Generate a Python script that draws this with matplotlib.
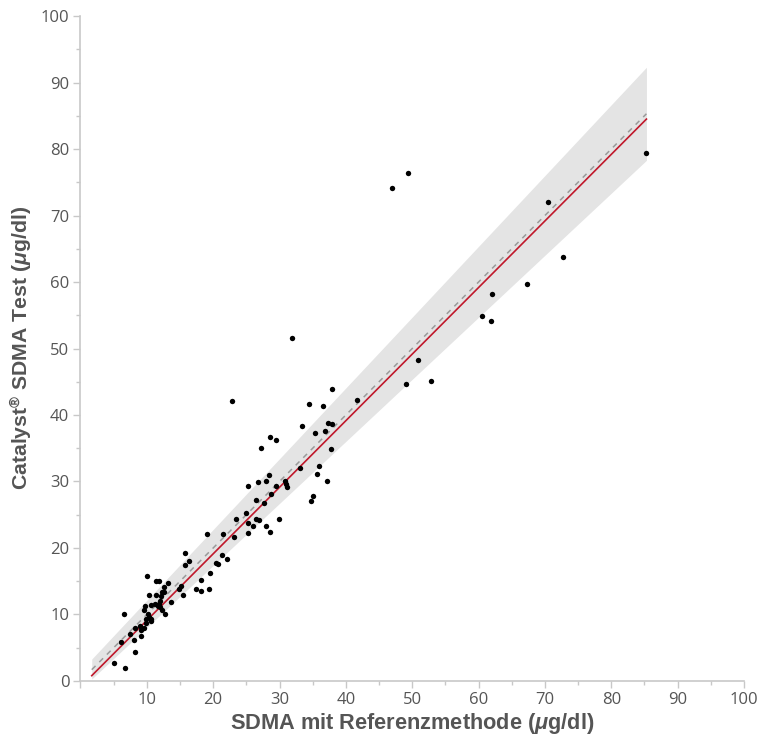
import numpy as np
import matplotlib.pyplot as plt
from matplotlib.ticker import MultipleLocator

# Referenzmethode (x) vs. Catalyst SDMA Test (y), µg/dl
ref_x = [10.1, 11.4, 11.8, 13.2, 12.6, 12.3, 12.6, 10.3, 11.4, 12.2,
         12.0, 13.6, 11.2, 10.6, 9.8, 11.8, 11.7, 12.0, 12.3, 12.7,
         9.5, 10.2, 9.95, 10.35, 10.6, 6.6, 10.7, 8.2, 8.9, 9.5,
         9.95, 9.05, 7.4, 6.1, 8.0, 9.05, 8.15, 5.1, 6.65,
         16.3, 15.8, 15.7, 19.5, 18.1, 17.4, 18.1, 19.3, 15.1, 14.9, 15.5,
         25.3, 26.8, 27.9, 29.4, 30.9, 30.95, 31.1, 28.7, 26.4, 27.6,
         35.0, 34.7, 25.0, 23.4, 26.4, 26.9, 25.3, 26.0, 27.9, 29.95,
         28.5, 25.2, 21.5, 19.0, 23.2, 21.4, 22.1, 20.5, 20.8,
         22.9, 37.9, 34.5, 36.6, 41.7, 33.35, 37.3, 37.9, 35.3, 36.9,
         28.6, 29.5, 27.2, 37.7, 33.05, 35.9, 35.6, 37.1, 28.45,
         46.9, 49.4, 31.85, 50.9, 49.1, 52.8, 85.3, 70.5, 72.7, 67.3,
         62.0, 60.5, 61.9]
test_y = [15.8, 15.1, 15.1, 14.7, 14.1, 13.4, 13.4, 12.9, 13.0, 12.8,
          12.1, 11.9, 11.6, 11.4, 11.3, 11.6, 11.3, 11.2, 10.7, 10.0,
          10.6, 10.0, 9.3, 9.6, 9.3, 10.0, 9.0, 8.0, 8.2, 7.9,
          8.7, 7.7, 7.1, 5.9, 6.1, 6.7, 4.3, 2.75, 1.9,
          18.1, 17.5, 19.3, 16.2, 15.2, 13.8, 13.6, 13.9, 14.3, 13.8, 13.0,
          29.3, 29.9, 30.1, 29.3, 30.0, 29.6, 29.1, 28.1, 27.2, 26.7,
          27.8, 27.1, 25.3, 24.3, 24.4, 24.2, 23.7, 23.3, 23.3, 24.4,
          22.4, 22.3, 22.1, 22.1, 21.7, 18.9, 18.3, 17.8, 17.6,
          42.1, 43.9, 41.6, 41.35, 42.3, 38.3, 38.75, 38.6, 37.35, 37.6,
          36.7, 36.2, 35.1, 34.9, 32.0, 32.4, 31.2, 30.1, 31.0,
          74.2, 76.4, 51.6, 48.3, 44.6, 45.1, 79.4, 72.0, 63.8, 59.7,
          58.2, 54.9, 54.1]

# Regressionsgerade und Konfidenzband (Endpunkte)
reg_x = [1.7, 85.3]
reg_y = [0.8, 84.5]
band_upper = [3.3, 92.3]
band_lower = [0.3, 78.3]

plt.rcParams["mathtext.fontset"] = "custom"
plt.rcParams["mathtext.rm"] = "Liberation Sans:bold"
plt.rcParams["mathtext.it"] = "Liberation Sans:italic:bold"

fig = plt.figure(figsize=(7.57, 7.35), dpi=100)
ax = fig.add_axes([0.1063, 0.0735, 0.8765, 0.9047])

ax.fill_between(reg_x, band_lower, band_upper, color="#e4e4e4", linewidth=0, zorder=1)
ax.plot(reg_x, reg_x, color="#9a9a9a", linestyle=(0, (3.5, 3.5)), linewidth=1.1, zorder=2)
ax.plot(reg_x, reg_y, color="#c0182b", linewidth=1.2, zorder=3)
ax.scatter(ref_x, test_y, s=15, color="black", linewidths=0, zorder=4)

ax.set_xlim(0, 100)
ax.set_ylim(0, 100)
ax.xaxis.set_major_locator(MultipleLocator(10))
ax.yaxis.set_major_locator(MultipleLocator(10))
ax.xaxis.set_minor_locator(MultipleLocator(5))
ax.yaxis.set_minor_locator(MultipleLocator(5))
ax.set_xticks(np.arange(0, 101, 10))
ax.set_xticklabels([""] + [str(v) for v in range(10, 101, 10)])

for s in ["top", "right"]:
    ax.spines[s].set_visible(False)
for s in ["left", "bottom"]:
    ax.spines[s].set_color("#c8c8c8")
    ax.spines[s].set_linewidth(1.2)
ax.tick_params(which="major", length=5, width=1, color="#c8c8c8",
               labelsize=12, labelcolor="#555555", pad=3)
ax.tick_params(which="minor", length=3, width=1, color="#c8c8c8")
for lab in ax.get_xticklabels() + ax.get_yticklabels():
    lab.set_family("Open Sans")

# Achsentitel frei platziert, damit nichts abgeschnitten wird
fig.text(412 / 757, 1 - 723 / 735, "SDMA mit Referenzmethode ($\\mu$g/dl)",
         fontsize=15.7, fontweight="bold", family="Liberation Sans", color="#555555",
         ha="center", va="center")
fig.text(22 / 757, 1 - 348 / 735, "Catalyst$^{\\circledR}$ SDMA Test ($\\mu$g/dl)",
         fontsize=15.3, fontweight="bold", family="Liberation Sans", color="#555555",
         ha="center", va="center", rotation=90)

fig.savefig("out.png", dpi=100)
